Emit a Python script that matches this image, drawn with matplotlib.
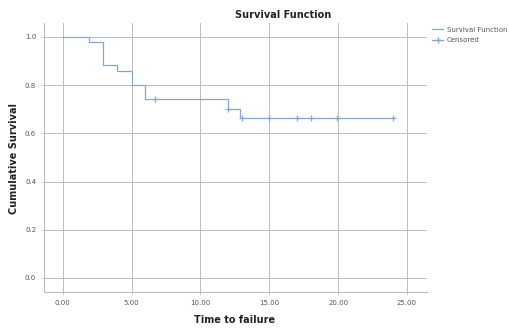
import numpy as np
import matplotlib
matplotlib.use('Agg')
import matplotlib.pyplot as plt
from matplotlib.lines import Line2D

# 生存函数数据
event_time = [0.0, 1.9, 2.9, 3.9, 5.0, 6.0, 12.0, 12.9, 24.0]
survival = [1.0, 0.979, 0.882, 0.859, 0.80, 0.743, 0.70, 0.664, 0.664]
censor_time = [6.7, 12.0, 13.0, 15.0, 17.0, 18.0, 19.9, 24.0]
censor_surv = [0.743, 0.70, 0.664, 0.664, 0.664, 0.664, 0.664, 0.664]

x_ticks = [0, 5, 10, 15, 20, 25]
y_ticks = [0.0, 0.2, 0.4, 0.6, 0.8, 1.0]

line_color = '#86a6d8'
grid_color = '#bcbcbc'
text_color = '#555555'

fig = plt.figure(figsize=(5.1, 3.28), dpi=100)
ax = fig.add_axes([0.086, 0.110, 0.751, 0.820])

ax.step(event_time, survival, where='post', color=line_color, linewidth=0.9)
ax.plot(censor_time, censor_surv, linestyle='none', marker='+', markersize=4,
        markeredgewidth=0.9, color=line_color)

ax.set_xlim(-1.38, 26.45)
ax.set_ylim(-0.058, 1.058)
ax.set_xticks(x_ticks)
ax.set_yticks(y_ticks)
ax.set_xticklabels(['%.2f' % v for v in x_ticks])
ax.set_yticklabels(['%.1f' % v for v in y_ticks])
ax.tick_params(labelsize=5, colors=text_color, length=2, width=0.5, color=grid_color)

ax.grid(True, color=grid_color, linewidth=0.7)
ax.set_axisbelow(True)
for side in ['top', 'right']:
    ax.spines[side].set_visible(False)
for side in ['left', 'bottom']:
    ax.spines[side].set_color(grid_color)
    ax.spines[side].set_linewidth(0.8)

# 标题和坐标轴名称
fig.text(283 / 510, 1 - 15 / 328, 'Survival Function', fontsize=7, fontweight='bold',
         color='#222222', ha='center', va='center')
fig.text(235 / 510, 1 - 320 / 328, 'Time to failure', fontsize=7, fontweight='bold',
         color='#222222', ha='center', va='center')
fig.text(14 / 510, 1 - 158 / 328, 'Cumulative Survival', fontsize=7, fontweight='bold',
         color='#222222', ha='center', va='center', rotation=90)

handles = [
    Line2D([], [], color=line_color, linewidth=0.9),
    Line2D([], [], color=line_color, linewidth=0.9, marker='+', markersize=4),
]
fig.legend(handles, ['Survival Function', 'Censored'], loc='upper left',
           bbox_to_anchor=(0.835, 0.937), frameon=False, fontsize=5,
           labelcolor=text_color, handlelength=1.6, handletextpad=0.5,
           labelspacing=0.65)

fig.savefig('out.png', dpi=100)
